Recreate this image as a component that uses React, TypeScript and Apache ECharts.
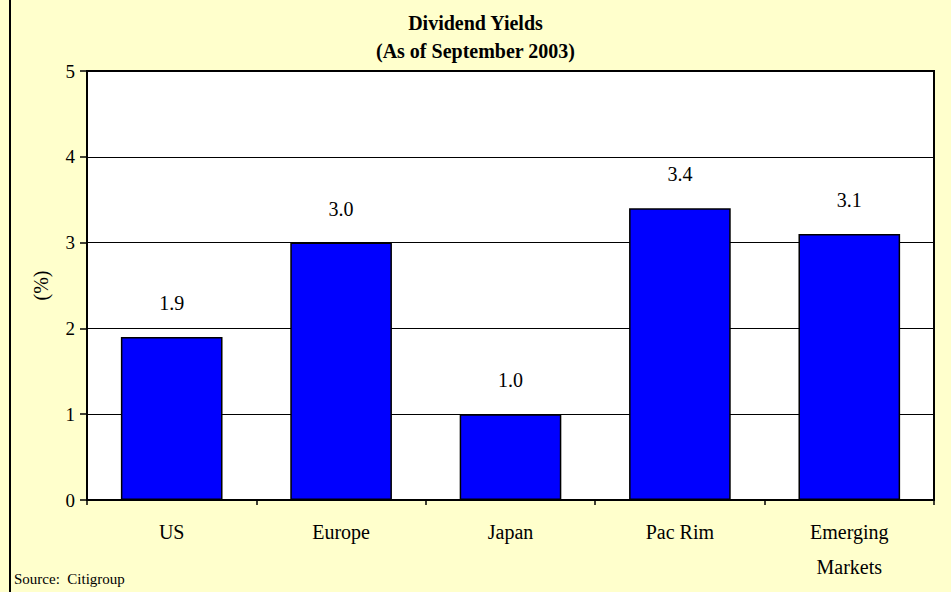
import React, { useEffect, useRef } from "react";
import * as echarts from "echarts";

const categories = ["US", "Europe", "Japan", "Pac Rim", "Emerging\nMarkets"];
const yields = [1.9, 3.0, 1.0, 3.4, 3.1];
const titleLines = ["Dividend Yields", "(As of September 2003)"];
const yAxisTitle = "(%)";
const sourceNote = "Source:  Citigroup";

const FONT = "'Liberation Serif', 'Times New Roman', serif";

export default function App() {
  const ref = useRef<HTMLDivElement>(null);
  useEffect(() => {
    if (!ref.current) return;
    const chart = echarts.init(ref.current, null, { renderer: "svg" });
    chart.setOption({
      animation: false,
      backgroundColor: "#FFFFCC",
      title: {
        text: titleLines.join("\n"),
        left: "center",
        top: 4,
        textStyle: {
          fontFamily: FONT,
          fontSize: 20,
          fontWeight: "bold",
          color: "#000",
          lineHeight: 28,
        },
      },
      grid: {
        left: 87,
        right: 17,
        top: 71,
        bottom: 92,
        show: true,
        backgroundColor: "#FFFFFF",
        borderColor: "#000",
        borderWidth: 2,
      },
      xAxis: {
        type: "category",
        data: categories,
        axisLine: { show: true, lineStyle: { color: "#000", width: 2 } },
        axisTick: { show: true, length: 5, alignWithLabel: false, lineStyle: { color: "#000", width: 1.5 } },
        axisLabel: {
          fontFamily: FONT,
          fontSize: 20,
          color: "#000",
          margin: 14,
          lineHeight: 35,
          interval: 0,
        },
      },
      yAxis: {
        type: "value",
        min: 0,
        max: 5,
        interval: 1,
        name: yAxisTitle,
        nameLocation: "middle",
        nameRotate: 90,
        nameGap: 36,
        nameTextStyle: { fontFamily: FONT, fontSize: 20, color: "#000" },
        axisLine: { show: true, lineStyle: { color: "#000", width: 2 } },
        axisTick: { show: true, length: 7, lineStyle: { color: "#000", width: 1.5 } },
        axisLabel: { fontFamily: FONT, fontSize: 19, color: "#000", margin: 12 },
        splitLine: { show: true, lineStyle: { color: "#000", width: 1 } },
      },
      series: [
        {
          type: "bar",
          data: yields,
          barCategoryGap: "40%",
          itemStyle: { color: "#0000FF", borderColor: "#000", borderWidth: 1.5 },
          label: {
            show: true,
            position: "top",
            distance: 24,
            fontFamily: FONT,
            fontSize: 20,
            color: "#000",
            formatter: (p: any) => Number(p.value).toFixed(1),
          },
        },
      ],
      graphic: [
        {
          type: "line",
          shape: { x1: 10, y1: 0, x2: 10, y2: 592 },
          style: { stroke: "#000", lineWidth: 2 },
        },
        {
          type: "text",
          left: 14,
          top: 571,
          style: { text: sourceNote, fontFamily: FONT, fontSize: 15, fill: "#000" },
        },
      ],
    });
    return () => chart.dispose();
  }, []);
  return (
    <div
      ref={ref}
      style={{ position: "absolute", left: 0, top: 0, width: 951, height: 592 }}
    />
  );
}
